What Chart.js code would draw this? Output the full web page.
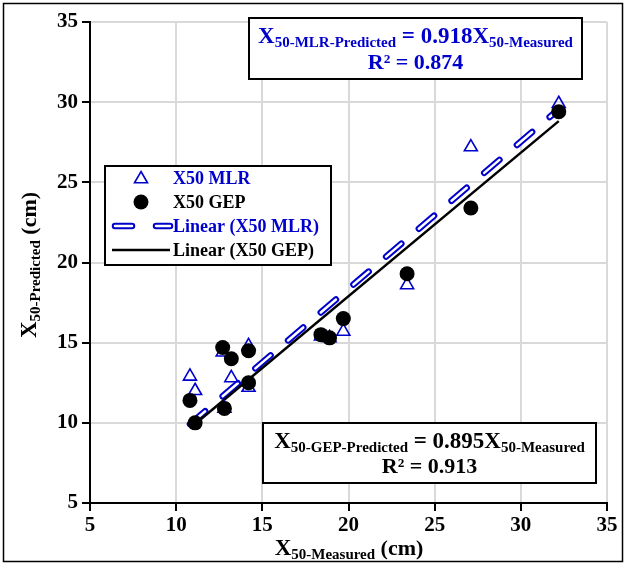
<!DOCTYPE html>
<html><head><meta charset="utf-8">
<script src="https://cdn.jsdelivr.net/npm/chart.js@4.4.0/dist/chart.umd.min.js"></script>
<style>html,body{margin:0;padding:0;background:#fff}canvas{display:block}</style>
</head><body>
<canvas id="c" width="627" height="565"></canvas>
<script>
// ---- data ----
const measured     = [10.8, 11.1, 12.7, 12.8, 13.2, 14.2, 14.2, 18.4, 18.9, 19.7, 23.4, 27.1, 32.2];
const mlrPredicted = [12.9, 12.0, 14.4, 10.9, 12.8, 12.2, 14.8, 15.4, 15.3, 15.7, 18.6, 27.2, 29.9];
const gepPredicted = [11.4, 10.0, 14.7, 10.9, 14.0, 14.5, 12.5, 15.5, 15.3, 16.5, 19.3, 23.4, 29.4];
const mlrSlope = 0.918, gepSlope = 0.895;
const mlrR2 = 0.874, gepR2 = 0.913;
const axisTicks = [5, 10, 15, 20, 25, 30, 35];
const seriesNames = ['X50 MLR', 'X50 GEP', 'Linear (X50 MLR)', 'Linear (X50 GEP)'];

const BLUE = '#0000CC';
const FONT = '"Liberation Serif", "Times New Roman", serif';
const pts = ys => measured.map((x, i) => ({x, y: ys[i]}));
const xMin = Math.min(...measured), xMax = Math.max(...measured);
const trend = s => [{x: xMin, y: s * xMin}, {x: xMax, y: s * xMax}];
const DASH = [20, 23];

function rich(ctx, parts, x, y, color, rotate) {
  let w = 0;
  parts.forEach(p => { ctx.font = `bold ${p.s}px ${FONT}`; p.w = ctx.measureText(p.t).width; w += p.w; });
  ctx.save();
  ctx.translate(x, y);
  if (rotate) ctx.rotate(-Math.PI / 2);
  ctx.fillStyle = color; ctx.textAlign = 'left'; ctx.textBaseline = 'alphabetic';
  let cx = -w / 2;
  parts.forEach(p => { ctx.font = `bold ${p.s}px ${FONT}`; ctx.fillText(p.t, cx, p.sub ? 4 : 0); cx += p.w; });
  ctx.restore();
}

const overlay = {
  id: 'overlay',
  afterDraw(chart) {
    const ctx = chart.ctx;
    ctx.save();
    // equation box MLR
    ctx.fillStyle = '#fff'; ctx.fillRect(249, 18, 333, 61);
    ctx.lineWidth = 2; ctx.strokeStyle = '#000'; ctx.strokeRect(249, 18, 333, 61);
    rich(ctx, [{t: 'X', s: 23}, {t: '50-MLR-Predicted', s: 15, sub: 1}, {t: ' = ' + mlrSlope.toFixed(3) + 'X', s: 23}, {t: '50-Measured', s: 15, sub: 1}], 415.5, 43, BLUE);
    rich(ctx, [{t: 'R² = ' + mlrR2.toFixed(3), s: 22}], 415.5, 69, BLUE);
    // equation box GEP
    ctx.fillStyle = '#fff'; ctx.fillRect(263, 423, 333, 60);
    ctx.strokeRect(263, 423, 333, 60);
    rich(ctx, [{t: 'X', s: 23}, {t: '50-GEP-Predicted', s: 15, sub: 1}, {t: ' = ' + gepSlope.toFixed(3) + 'X', s: 23}, {t: '50-Measured', s: 15, sub: 1}], 429.5, 448, '#000');
    rich(ctx, [{t: 'R² = ' + gepR2.toFixed(3), s: 22}], 429.5, 473, '#000');
    // legend
    ctx.fillStyle = '#fff'; ctx.fillRect(105, 166, 226, 99);
    ctx.strokeRect(105, 166, 226, 99);
    const ys = [178, 202, 226, 250];
    const cols = [BLUE, '#000', BLUE, '#000'];
    ctx.font = `bold 18px ${FONT}`; ctx.textBaseline = 'middle'; ctx.textAlign = 'left';
    seriesNames.forEach((n, i) => { ctx.fillStyle = cols[i]; ctx.fillText(n, 173, ys[i] + 1); });
    // symbols
    ctx.strokeStyle = BLUE; ctx.lineWidth = 1.6;
    ctx.beginPath(); const r = 7.5;
    ctx.moveTo(141, ys[0] + 1 - r); ctx.lineTo(141 + r * 0.866, ys[0] + 1 + r / 2); ctx.lineTo(141 - r * 0.866, ys[0] + 1 + r / 2); ctx.closePath(); ctx.stroke();
    ctx.fillStyle = '#000'; ctx.beginPath(); ctx.arc(141, ys[1], 7.5, 0, Math.PI * 2); ctx.fill();
    ctx.lineCap = 'round'; ctx.setLineDash([17, 24]);
    ctx.strokeStyle = BLUE; ctx.lineWidth = 6.5; ctx.beginPath(); ctx.moveTo(115, ys[2]); ctx.lineTo(170, ys[2]); ctx.stroke();
    ctx.strokeStyle = '#fff'; ctx.lineWidth = 2.5; ctx.beginPath(); ctx.moveTo(115, ys[2]); ctx.lineTo(170, ys[2]); ctx.stroke();
    ctx.setLineDash([]); ctx.lineCap = 'butt';
    ctx.strokeStyle = '#000'; ctx.lineWidth = 2.5; ctx.beginPath(); ctx.moveTo(112, ys[3]); ctx.lineTo(170, ys[3]); ctx.stroke();
    // axis titles
    rich(ctx, [{t: 'X', s: 23}, {t: '50-Measured', s: 15, sub: 1}, {t: ' (cm)', s: 22}], 349, 555, '#000');
    rich(ctx, [{t: 'X', s: 23}, {t: '50-Predicted', s: 15, sub: 1}, {t: ' (cm)', s: 22}], 36, 265, '#000', true);
    // outer border
    ctx.strokeStyle = '#000'; ctx.lineWidth = 1.5; ctx.strokeRect(3.5, 3.5, 619, 558);
    ctx.restore();
  }
};

const tickFont = {family: FONT, size: 21, weight: 'bold'};
const axisCommon = {
  type: 'linear', min: axisTicks[0], max: axisTicks[axisTicks.length - 1],
  afterBuildTicks(s) { s.ticks = axisTicks.map(v => ({value: v})); },
  grid: {color: '#d9d9d9', lineWidth: 2, tickLength: 8, tickColor: '#000', tickWidth: 2},
  border: {color: '#000', width: 2}
};

new Chart(document.getElementById('c'), {
  type: 'scatter',
  data: {datasets: [
    {label: seriesNames[0], data: pts(mlrPredicted), pointStyle: 'triangle', pointRadius: 7.5, borderColor: BLUE, backgroundColor: 'rgba(0,0,0,0)', pointBorderWidth: 1.6, order: 1},
    {label: seriesNames[1], data: pts(gepPredicted), pointStyle: 'circle', pointRadius: 7.5, borderColor: '#000', backgroundColor: '#000', pointBorderWidth: 0, order: 0},
    {label: seriesNames[2], data: trend(mlrSlope), showLine: true, pointRadius: 0, borderColor: BLUE, borderWidth: 6.5, borderDash: DASH, borderCapStyle: 'round', order: 4},
    {label: seriesNames[2] + ' inner', data: trend(mlrSlope), showLine: true, pointRadius: 0, borderColor: '#fff', borderWidth: 2.5, borderDash: DASH, borderCapStyle: 'round', order: 3},
    {label: seriesNames[3], data: trend(gepSlope), showLine: true, pointRadius: 0, borderColor: '#000', borderWidth: 2.5, order: 2}
  ]},
  options: {
    responsive: false, animation: false, events: [],
    layout: {padding: {left: 0, right: 20, top: 22, bottom: 0}},
    plugins: {legend: {display: false}, tooltip: {enabled: false}},
    scales: {
      x: Object.assign({}, axisCommon, {ticks: {color: '#000', font: tickFont, padding: 2}, afterFit(s) { s.height = 62; }}),
      y: Object.assign({}, axisCommon, {ticks: {color: '#000', font: tickFont, padding: 4}, afterFit(s) { s.width = 90; }})
    }
  },
  plugins: [overlay]
});
</script>
</body></html>
